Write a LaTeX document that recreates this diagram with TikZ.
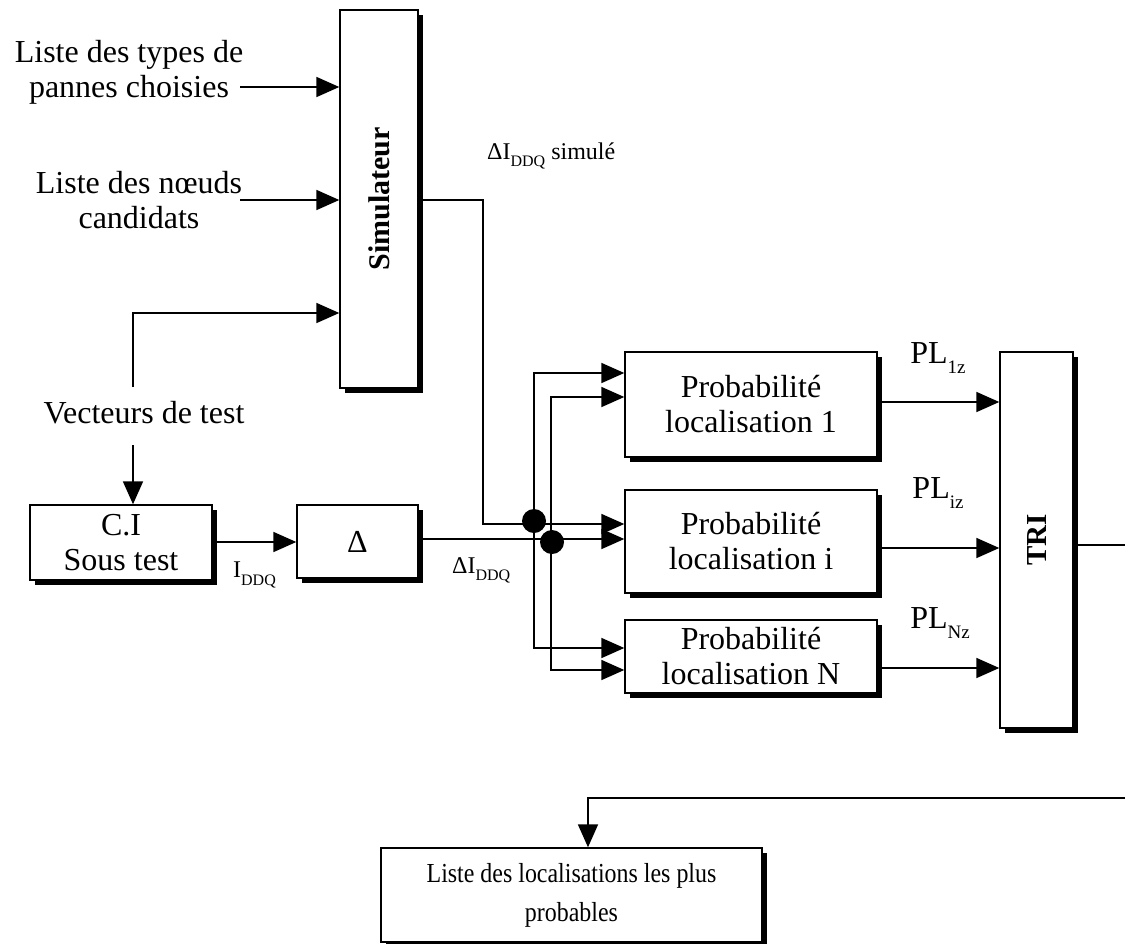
\documentclass[tikz,border=0pt]{standalone}
\usepackage{fontspec}
\setmainfont{Liberation Serif}
\usepackage{graphicx}
\usetikzlibrary{arrows.meta,shadows}
% lowered small subscript used in the signal names
\newcommand\lowsub[2]{\raisebox{-0.3em}{\fontsize{#1}{#1}\selectfont #2}}
% slightly narrowed line of text
\newcommand\narrow[1]{\scalebox{0.87}[1]{#1}}
\begin{document}
\begin{tikzpicture}[x=1pt,y=-1pt,
  every node/.style={font=\fontsize{32}{35}\selectfont, align=center, inner sep=0pt},
  blk/.style={draw, line width=1.4pt, fill=white,
    general shadow={fill=black, shadow xshift=4.5pt, shadow yshift=-4.5pt}},
  lbl/.style={font=\fontsize{24}{26}\selectfont, anchor=west},
  arr/.style={line width=1.8pt, -{Triangle[length=23pt,width=20pt]}},
  wire/.style={line width=1.8pt},
  dot/.style={circle, fill=black, minimum width=22pt, minimum height=24pt}]
\useasboundingbox (0,0) rectangle (1125,943);

% processing blocks
\node[blk, minimum width=78pt, minimum height=378pt] (sim) at (379,199)
  {\rotatebox{90}{\fontsize{30}{30}\selectfont\bfseries Simulateur}};
\node[blk, minimum width=182pt, minimum height=75pt] (ci) at (121,542.5) {C.I\\Sous test};
\node[blk, minimum width=121pt, minimum height=73pt] (delta) at (357.5,541.5) {Δ};
\node[blk, minimum width=252pt, minimum height=105pt] (p1) at (751,404.5)
  {Probabilité\\localisation 1};
\node[blk, minimum width=252pt, minimum height=103pt] (pi) at (751,541.5)
  {Probabilité\\localisation i};
\node[blk, minimum width=252pt, minimum height=73pt] (pn) at (751,656.5)
  {Probabilité\\localisation N};
\node[blk, minimum width=73pt, minimum height=376pt] (tri) at (1036.5,540)
  {\rotatebox{90}{\fontsize{29}{29}\selectfont\bfseries TRI}};
\node[blk, minimum width=381pt, minimum height=94pt,
  font=\fontsize{27.5}{39}\selectfont] (out) at (571.5,895)
  {\narrow{Liste des localisations les plus}\\\narrow{probables}};

% inputs
\node (in1) at (129,72) {Liste des types de\\pannes choisies};
\node (in2) at (139,200) {Liste des nœuds\\candidats};
\node (vec) at (144,413) {Vecteurs de test};
\coordinate (a1) at (240,87);
\coordinate (a2) at (240,200);
\coordinate (v1) at (133,387);
\coordinate (v2) at (133,445);

\draw[arr] (a1) -- (a1 -| sim.west);
\draw[arr] (a2) -- (a2 -| sim.west);
\draw[arr] (v1) |- (sim.west |- 0,313);
\draw[arr] (v2) -- (v2 |- ci.north);

% measurement chain
\draw[arr] (ci.east |- 0,542) -- (delta.west |- 0,542);
\node[lbl] (iddq) at (233,575) {I\lowsub{16}{DDQ}};

% simulated and measured current buses
\coordinate (ja) at (534,524);
\coordinate (jb) at (551,539);
\draw[arr] (sim.east |- 0,200) -| (483,524) -- (pi.west |- 0,524);
\draw[arr] (delta.east |- 0,539) -- (pi.west |- 0,539);
\draw[arr] (ja) |- (p1.west |- 0,373);
\draw[arr] (ja) |- (pn.west |- 0,648);
\draw[arr] (jb) |- (p1.west |- 0,397);
\draw[arr] (jb) |- (pn.west |- 0,670);
\node[dot] (d1) at (534,521) {};
\node[dot] (d2) at (552,542) {};
\node[lbl] (simlab) at (487,156) {ΔI\lowsub{16}{DDQ} simulé};
\node[lbl] (dlab) at (452,570) {ΔI\lowsub{16}{DDQ}};

% localisation probabilities to the sorter
\draw[arr] (p1.east |- 0,402) -- (tri.west |- 0,402);
\draw[arr] (pi.east |- 0,548) -- (tri.west |- 0,548);
\draw[arr] (pn.east |- 0,668) -- (tri.west |- 0,668);
\node (pl1) at (938,358) {PL\lowsub{19}{1z}};
\node (pli) at (938,493) {PL\lowsub{19}{iz}};
\node (pln) at (940,623) {PL\lowsub{19}{Nz}};

% sorted output back to the result list
\coordinate (r1) at (1125,545);
\coordinate (r2) at (1125,798);
\draw[wire] (tri.east |- r1) -- (r1);
\draw[arr] (r2) -| (out.north -| 588,0);
\end{tikzpicture}
\end{document}
